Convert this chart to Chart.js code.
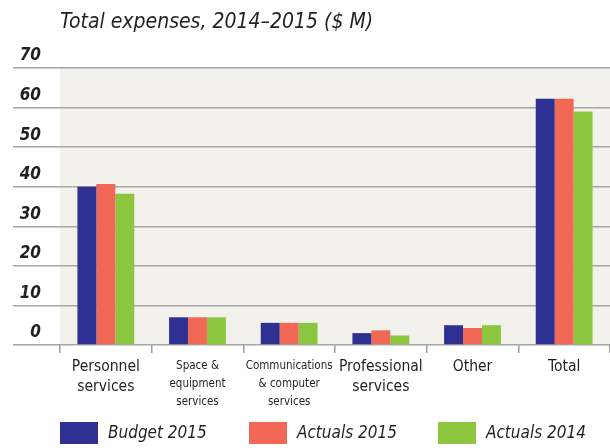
<!DOCTYPE html>
<html>
<head>
<meta charset="utf-8">
<script src="https://cdn.jsdelivr.net/npm/chart.js@4.4.1/dist/chart.umd.min.js"></script>
<style>
  body { margin: 0; background: #fff; }
  canvas { display: block; }
</style>
</head>
<body>
<canvas id="myChart" width="610" height="448"></canvas>
<script>
const FONT = "'Liberation Sans Narrow', 'DejaVu Sans Condensed', 'Liberation Sans', sans-serif";
const INK = '#231f20';

// categories, one array of lines per label
const categories = [
  ['Personnel', 'services'],
  ['Space &', 'equipment', 'services'],
  ['Communications', '& computer', 'services'],
  ['Professional', 'services'],
  ['Other'],
  ['Total']
];
const smallLabels = [1, 2];

const budget2015 = [40.0, 7.0, 5.6, 3.0, 5.0, 62.2];
const actuals2015 = [40.7, 7.0, 5.6, 3.7, 4.3, 62.2];
const actuals2014 = [38.2, 7.0, 5.6, 2.4, 5.0, 59.0];

const yTicks = [0, 10, 20, 30, 40, 50, 60, 70];

// light panel behind the bars
const plotBg = {
  id: 'plotBg',
  beforeDraw(chart) {
    const a = chart.chartArea, c = chart.ctx;
    c.save();
    c.fillStyle = '#f2f1ec';
    c.fillRect(a.left, a.top, a.right - a.left, a.bottom - a.top);
    c.restore();
  }
};

// legend along the bottom, drawn by hand
const bottomLegend = {
  id: 'bottomLegend',
  afterDraw(chart) {
    const c = chart.ctx;
    c.save();
    c.font = 'italic 17px ' + FONT;
    c.textBaseline = 'middle';
    chart.data.datasets.forEach(function (ds, i) {
      const x = 60 + i * 189;
      c.fillStyle = ds.backgroundColor;
      c.fillRect(x, 422, 38, 22);
      c.fillStyle = INK;
      c.fillText(ds.label, x + 48, 434);
    });
    c.restore();
  }
};

const ctx = document.getElementById('myChart').getContext('2d');
const chart = new Chart(ctx, {
  type: 'bar',
  data: {
    labels: categories,
    datasets: [
      { label: 'Budget 2015', backgroundColor: '#2e3192', data: budget2015 },
      { label: 'Actuals 2015', backgroundColor: '#f16857', data: actuals2015 },
      { label: 'Actuals 2014', backgroundColor: '#8cc63f', data: actuals2014 }
    ]
  },
  options: {
    responsive: false,
    animation: false,
    layout: { padding: { left: 0, right: 0, top: 0, bottom: 43 } },
    datasets: { bar: { categoryPercentage: 0.62, barPercentage: 1.0, borderWidth: 0 } },
    plugins: {
      legend: { display: false },
      tooltip: { enabled: false },
      title: {
        display: true,
        text: 'Total expenses, 2014\u20132015 ($ M)',
        align: 'start',
        fullSize: false,
        color: INK,
        font: { family: FONT, size: 21, style: 'italic', weight: 'normal', lineHeight: 1.2 },
        padding: { top: 10, bottom: 32.8 }
      }
    },
    scales: {
      x: {
        border: { display: false },
        grid: {
          offset: true,
          drawOnChartArea: false,
          drawTicks: true,
          tickLength: 8,
          color: '#9a9a9a',
          lineWidth: 1.5
        },
        ticks: {
          color: INK,
          padding: 4,
          maxRotation: 0,
          autoSkip: false,
          font: function (c) {
            return smallLabels.indexOf(c.index) >= 0
              ? { family: FONT, size: 11.5, lineHeight: 1.55 }
              : { family: FONT, size: 15.5, lineHeight: 1.3 };
          }
        },
        afterFit: function (scale) { scale.height = 60; }
      },
      y: {
        min: 0,
        max: 70,
        border: { display: false },
        grid: {
          color: '#a5a5a5',
          lineWidth: 1.5,
          drawTicks: true,
          tickLength: 47
        },
        afterBuildTicks: function (scale) {
          scale.ticks = yTicks.map(v => ({ value: v }));
        },
        ticks: {
          color: INK,
          padding: -28,
          labelOffset: -12,
          font: { family: FONT, size: 17, style: 'italic', weight: 'bold' }
        },
        afterFit: function (scale) { scale.width = 60; }
      }
    }
  },
  plugins: [plotBg, bottomLegend]
});
</script>
</body>
</html>
